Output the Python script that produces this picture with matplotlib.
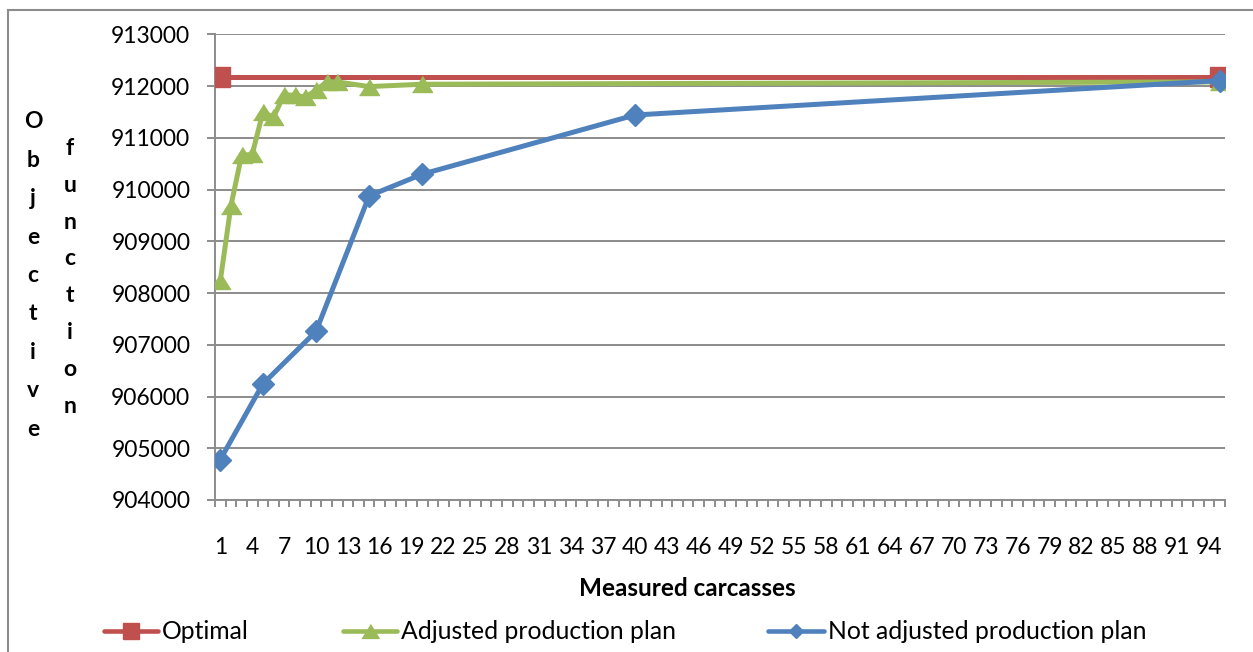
import matplotlib
matplotlib.use("Agg")
import matplotlib.pyplot as plt
from matplotlib.lines import Line2D
from matplotlib.patches import Rectangle
from matplotlib.ticker import FixedLocator, NullFormatter

plt.rcParams['font.family'] = ['Lato', 'DejaVu Sans']

# Series data: number of measured carcasses -> objective function value
optimal_x = [1, 95]
optimal_y = [912180, 912180]

adjusted_x = [1, 2, 3, 4, 5, 6, 7, 8, 9, 10, 11, 12, 15, 20, 95]
adjusted_y = [908240, 909690, 910660, 910680, 911490, 911400, 911828, 911822,
              911784, 911919, 912079, 912079, 911990, 912035, 912080]

not_adjusted_x = [1, 5, 10, 15, 20, 40, 95]
not_adjusted_y = [904782, 906243, 907259, 909878, 910297, 911440, 912104]

series_names = ["Optimal", "Adjusted production plan", "Not adjusted production plan"]
y_ticks = [904000, 905000, 906000, 907000, 908000, 909000, 910000, 911000, 912000, 913000]
n_categories = 95
x_tick_labels = list(range(1, n_categories + 1, 3))

RED = "#C0504D"
GREEN = "#9BBB59"
BLUE = "#4F81BD"
GRID = "#8C8C8C"

W, H = 1253, 652
fig = plt.figure(figsize=(W / 100, H / 100), dpi=100)
fig.patch.set_facecolor("white")

# plot area in pixel terms
left, right, top, bottom = 215, 1225, 34.3, 500
ax = fig.add_axes([left / W, 1 - bottom / H, (right - left) / W, (bottom - top) / H])

tri = [(-1, -0.8), (1, -0.8), (0, 0.8)]

ax.plot(optimal_x, optimal_y, color=RED, lw=3.6, marker='s', ms=14.4,
        solid_capstyle='butt', zorder=3)
ax.plot(adjusted_x, adjusted_y, color=GREEN, lw=3.6, marker=tri, ms=14.4,
        solid_joinstyle='round', zorder=4)
ax.plot(not_adjusted_x, not_adjusted_y, color=BLUE, lw=3.6, marker='D', ms=11.0,
        solid_joinstyle='round', zorder=5)

ax.set_xlim(0.5, n_categories + 0.5)
ax.set_ylim(904000, 913000)

ax.set_yticks(y_ticks)
ax.set_yticklabels([str(v) for v in y_ticks])
ax.yaxis.grid(True, color=GRID, lw=1.4)
ax.set_axisbelow(True)

ax.set_xticks(x_tick_labels)
ax.set_xticklabels([str(v) for v in x_tick_labels])
ax.xaxis.set_minor_locator(FixedLocator([i + 0.5 for i in range(0, n_categories + 1)]))
ax.xaxis.set_minor_formatter(NullFormatter())

for s in ['top', 'right']:
    ax.spines[s].set_visible(False)
for s in ['left', 'bottom']:
    ax.spines[s].set_color(GRID)
    ax.spines[s].set_linewidth(1.4)

ax.tick_params(axis='y', which='major', direction='out', length=5.8, width=1.4,
               color=GRID, labelsize=16.5, pad=12)
ax.tick_params(axis='x', which='major', length=0, labelsize=16.5, pad=27)
ax.tick_params(axis='x', which='minor', direction='out', length=5, width=1.4, color=GRID)

# x-axis title
fig.text(687 / W, 1 - 596 / H, "Measured carcasses", ha='center', va='baseline',
         fontsize=17.5, fontweight='bold')

# stacked y-axis title, one letter per line
for i, ch in enumerate("Objective"):
    fig.text(33 / W, 1 - (128.3 + i * 38.4) / H, ch, ha='center', va='baseline',
             fontsize=16.5, fontweight='bold')
for i, ch in enumerate("function"):
    fig.text(70 / W, 1 - (155 + i * 36.8) / H, ch, ha='center', va='baseline',
             fontsize=16.5, fontweight='bold')

# legend
legend_items = [
    (series_names[0], RED, 's', 11, 104, 158, 162),
    (series_names[1], GREEN, tri, 12.5, 343, 397, 401),
    (series_names[2], BLUE, 'D', 7.3, 768, 824, 828),
]
ly = 631
for name, col, mk, ms, x0, x1, tx in legend_items:
    fig.add_artist(Line2D([x0 / W, x1 / W], [1 - ly / H, 1 - ly / H], color=col, lw=3.3,
                          solid_capstyle='round', transform=fig.transFigure))
    fig.add_artist(Line2D([(x0 + x1) / 2 / W], [1 - ly / H], color=col, marker=mk, ms=ms,
                          lw=0, transform=fig.transFigure))
    fig.text(tx / W, 1 - 639 / H, name, ha='left', va='baseline', fontsize=17.8)

# chart-area border
fig.add_artist(Rectangle((8 / W, -0.1), 1.2, 1 - 10 / H + 0.1, fill=False,
                         edgecolor="#8C8C8C", lw=1.5, transform=fig.transFigure))

fig.savefig("out.png", dpi=100, facecolor="white")
